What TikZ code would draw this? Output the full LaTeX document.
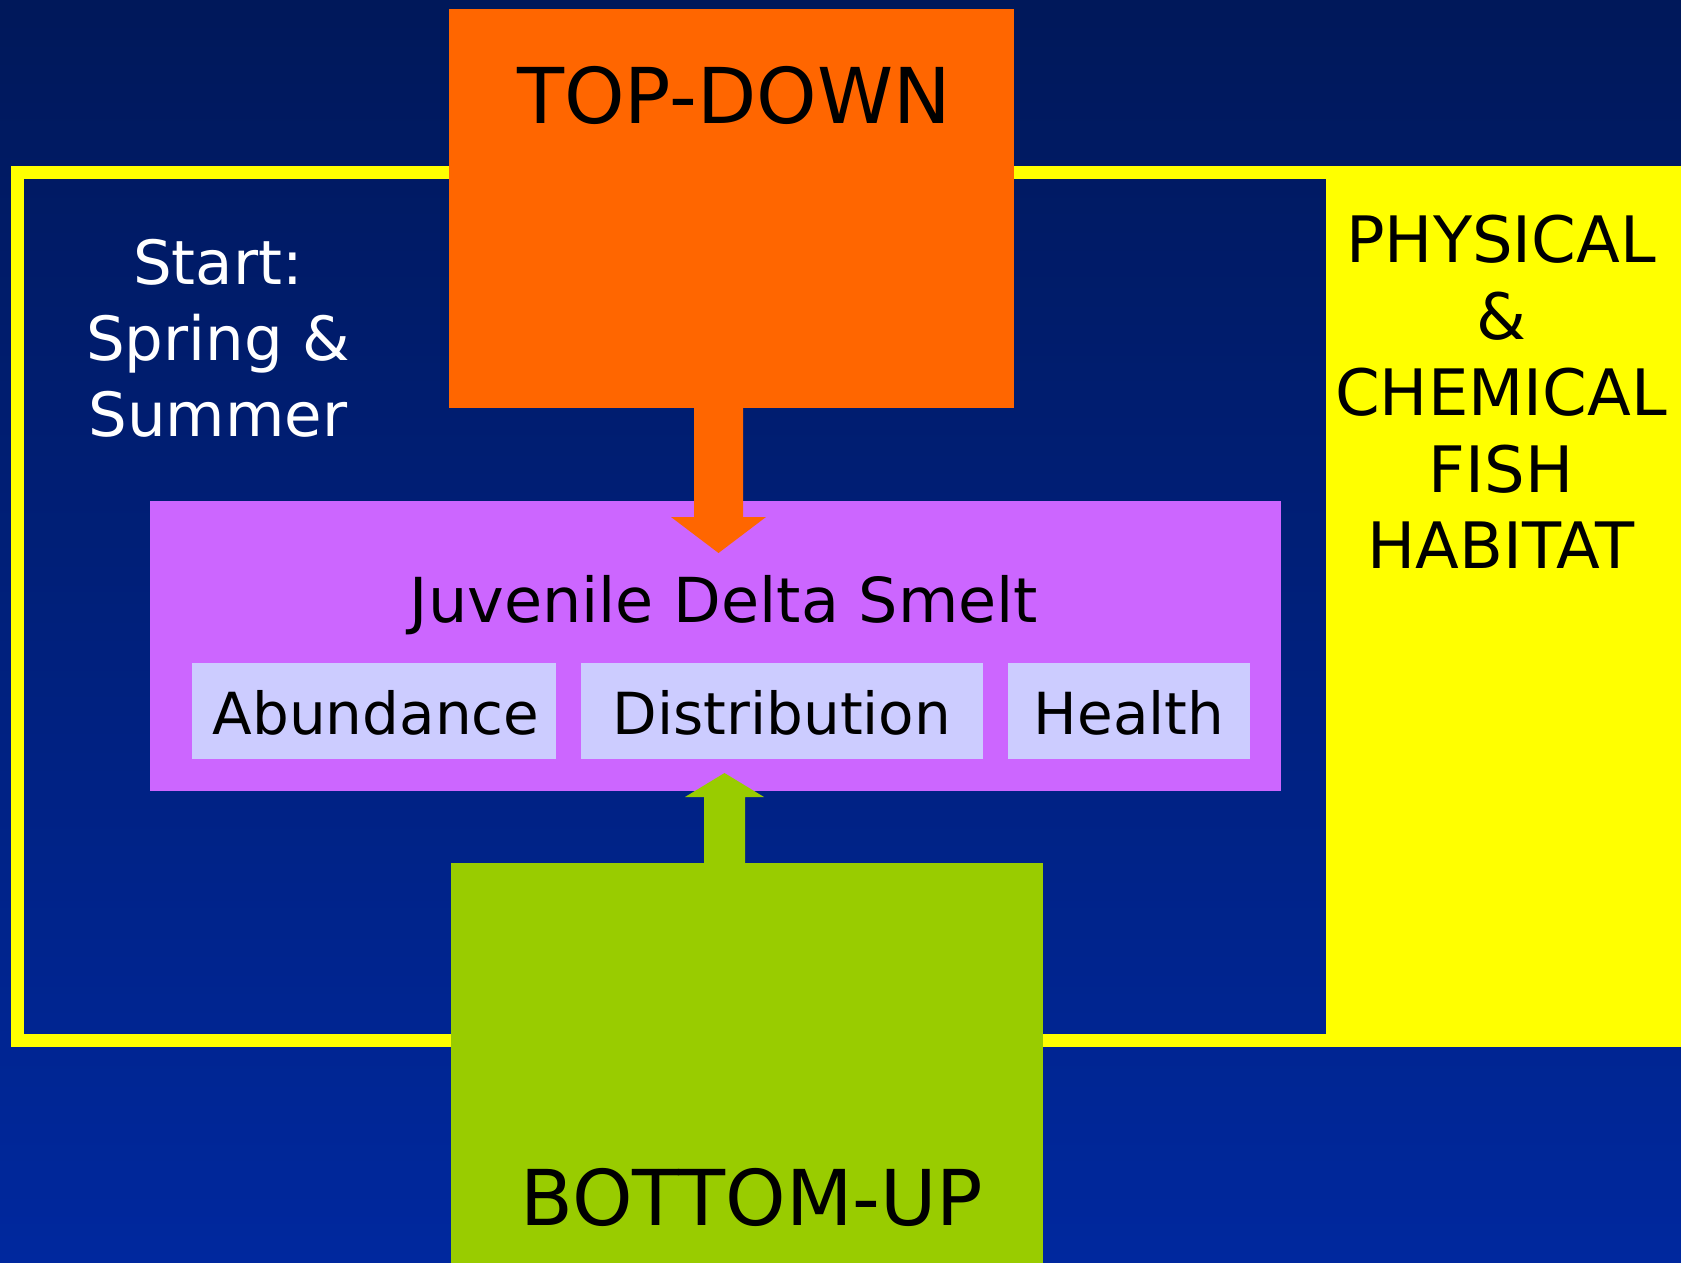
\documentclass[tikz,border=0pt]{standalone}
\usepackage{fontspec}
\setmainfont{DejaVu Sans}
\usetikzlibrary{calc}
\definecolor{bgtop}{RGB}{0,24,90}
\definecolor{bgbot}{RGB}{0,40,158}
\definecolor{ylw}{RGB}{255,255,0}
\definecolor{org}{RGB}{255,102,0}
\definecolor{pur}{RGB}{204,102,255}
\definecolor{lav}{RGB}{204,204,255}
\definecolor{grn}{RGB}{153,204,0}
\begin{document}
\begin{tikzpicture}[x=1pt,y=1pt,
  blk/.style={rectangle,inner sep=0pt,outer sep=0pt,anchor=north west},
  lbl/.style={inner sep=0pt,outer sep=0pt,anchor=base,text=black},
  big/.style={lbl,font=\fontsize{77}{90}\selectfont},
  mid/.style={lbl,font=\fontsize{62}{72}\selectfont},
  sml/.style={lbl,font=\fontsize{58}{70}\selectfont}]
\useasboundingbox (0,0) rectangle (1681,-1263);
\shade[top color=bgtop,bottom color=bgbot] (0,0) rectangle (1681,-1263);
% yellow frame
\draw[ylw,line width=13pt] (17.5,-172.5) rectangle (1332.5,-1040.5);
% yellow side box
\node[blk,fill=ylw,minimum width=355,minimum height=881] (phys) at (1326,-166) {};
\node[lbl,anchor=north,align=center,font=\fontsize{64}{76.5}\selectfont] (physt) at (1501,-215)
  {PHYSICAL\\\&\\CHEMICAL\\FISH\\HABITAT};
% start text
\node[lbl,anchor=north,align=center,text=white,font=\fontsize{61}{76}\selectfont] (start) at (218,-239)
  {Start:\\Spring \&\\Summer};
% top-down and bottom-up boxes
\node[blk,fill=org,minimum width=565,minimum height=399] (td) at (449,-9) {};
\node[big] (tdt) at (734,-123) {TOP-DOWN};
\node[blk,fill=grn,minimum width=592,minimum height=400] (bu) at (451,-863) {};
\node[big] (butt) at (752,-1225) {BOTTOM-UP};
% smelt box
\node[blk,fill=pur,minimum width=1131,minimum height=290] (smelt) at (150,-501) {};
\node[mid] (smeltt) at (724,-622) {Juvenile Delta Smelt};
\node[blk,fill=lav,minimum width=364,minimum height=96] (ab) at (192,-663) {};
\node[blk,fill=lav,minimum width=402,minimum height=96] (di) at (581,-663) {};
\node[blk,fill=lav,minimum width=242,minimum height=96] (he) at (1008,-663) {};
\node[sml] (abt) at (376,-734) {Abundance};
\node[sml] (dit) at (782,-734) {Distribution};
\node[sml] (het) at (1129,-734) {Health};
% arrows
\coordinate (ta) at ($(td.south)+(-13,0)$);
\fill[org] ([shift={(-24.5,0)}]ta) -- ([shift={(-24.5,-109)}]ta) -- ([shift={(-47.5,-109)}]ta)
  -- ([shift={(0,-145)}]ta) -- ([shift={(47.5,-109)}]ta) -- ([shift={(24.5,-109)}]ta)
  -- ([shift={(24.5,0)}]ta) -- cycle;
\coordinate (ba) at ($(bu.north)+(-22.5,0)$);
\fill[grn] ([shift={(-20.5,0)}]ba) -- ([shift={(-20.5,66)}]ba) -- ([shift={(-39.5,66)}]ba)
  -- ([shift={(0,90)}]ba) -- ([shift={(39.5,66)}]ba) -- ([shift={(20.5,66)}]ba)
  -- ([shift={(20.5,0)}]ba) -- cycle;
\end{tikzpicture}
\end{document}
